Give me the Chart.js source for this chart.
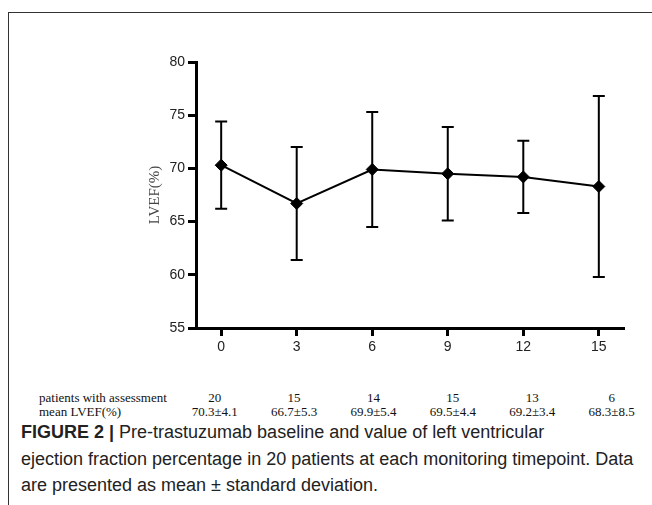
<!DOCTYPE html>
<html>
<head>
<meta charset="utf-8">
<script src="https://cdn.jsdelivr.net/npm/chart.js@4.4.0/dist/chart.umd.min.js"></script>
<style>
  body { margin: 0; background: #fff; }
  #page { position: relative; width: 652px; height: 505px; overflow: hidden; background: #fff; }
  #frame { position: absolute; left: 8px; top: 12px; right: -4px; bottom: -4px;
           border-top: 1px solid #333; border-left: 1px solid #333; }
  #chartBox { position: absolute; left: 0; top: 0; width: 652px; height: 368px; }
  #tbl { position: absolute; left: 39px; top: 391px; border-collapse: collapse;
         font-family: "Liberation Serif", "Times New Roman", serif; font-size: 13px; color: #111; }
  #tbl td { padding: 0; line-height: 13.5px; white-space: nowrap; }
  #tbl td.lab { width: 136px; text-align: left; }
  #tbl td.val { width: 79.4px; text-align: center; }
  #caption { position: absolute; left: 21px; top: 419px; width: 630px;
             font-family: "Liberation Sans", Arial, sans-serif; font-size: 18px; line-height: 26.5px; color: #222; }
</style>
</head>
<body>
<div id="page">
  <div id="frame"></div>
  <div id="chartBox"><canvas id="myChart"></canvas></div>
  <table id="tbl"><tbody id="tblBody"></tbody></table>
  <div id="caption"><b>FIGURE 2 |</b> Pre-trastuzumab baseline and value of left ventricular<br>ejection fraction percentage in 20 patients at each monitoring timepoint. Data<br>are presented as mean ± standard deviation.</div>
</div>
<script>
// monitoring timepoints (x axis ticks)
const timepoints = [0, 3, 6, 9, 12, 15]
const meanLVEF = [70.3, 66.7, 69.9, 69.5, 69.2, 68.3]
const sdLVEF = [4.1, 5.3, 5.4, 4.4, 3.4, 8.5]
const patientCount = [20, 15, 14, 15, 13, 6]
const yTicks = [55, 60, 65, 70, 75, 80]

// table under the chart
const body = document.getElementById('tblBody')
const row1 = ['<td class="lab">patients with assessment</td>']
const row2 = ['<td class="lab">mean LVEF(%)</td>']
for (let i = 0; i < timepoints.length; i++) {
  row1.push(`<td class="val">${patientCount[i]}</td>`)
  row2.push(`<td class="val">${meanLVEF[i].toFixed(1)}±${sdLVEF[i].toFixed(1)}</td>`)
}
body.innerHTML = `<tr>${row1.join('')}</tr><tr>${row2.join('')}</tr>`

// error bars drawn through the scales
const errorBars = {
  id: 'errorBars',
  beforeDatasetsDraw(chart) {
    const ctx = chart.ctx
    const xs = chart.scales.x, ys = chart.scales.y
    ctx.save()
    ctx.strokeStyle = '#000'
    ctx.lineWidth = 2
    for (let i = 0; i < timepoints.length; i++) {
      const x = xs.getPixelForValue(timepoints[i])
      const top = ys.getPixelForValue(meanLVEF[i] + sdLVEF[i])
      const bot = ys.getPixelForValue(meanLVEF[i] - sdLVEF[i])
      ctx.beginPath()
      ctx.moveTo(x, top); ctx.lineTo(x, bot)
      ctx.moveTo(x - 6, top); ctx.lineTo(x + 6, top)
      ctx.moveTo(x - 6, bot); ctx.lineTo(x + 6, bot)
      ctx.stroke()
    }
    ctx.restore()
  }
}

const ctx = document.getElementById('myChart')
new Chart(ctx, {
  type: 'line',
  data: {
    datasets: [{
      label: 'LVEF',
      data: timepoints.map((t, i) => ({ x: t, y: meanLVEF[i] })),
      borderColor: '#000',
      borderWidth: 2,
      tension: 0,
      pointStyle: 'rectRot',
      pointRadius: 6,
      pointBackgroundColor: '#000',
      pointBorderColor: '#000',
      pointBorderWidth: 1
    }]
  },
  options: {
    responsive: true,
    maintainAspectRatio: false,
    animation: false,
    layout: { padding: { left: 144, top: 62, right: 28, bottom: 0 } },
    plugins: { legend: { display: false }, tooltip: { enabled: false } },
    scales: {
      x: {
        type: 'linear',
        min: -1,
        max: 16,
        afterBuildTicks: (scale) => { scale.ticks = timepoints.map(v => ({ value: v })) },
        afterFit: (scale) => { scale.height = 40 },
        border: { display: true, color: '#000', width: 3 },
        grid: { drawOnChartArea: false, drawTicks: true, tickLength: 8, tickWidth: 3, tickColor: '#000' },
        ticks: { color: '#222', padding: 3, font: { family: 'Liberation Sans', size: 14 }, maxRotation: 0 }
      },
      y: {
        min: 55,
        max: 80,
        afterBuildTicks: (scale) => { scale.ticks = yTicks.map(v => ({ value: v })) },
        afterFit: (scale) => { scale.width = 52 },
        border: { display: true, color: '#000', width: 3 },
        grid: { drawOnChartArea: false, drawTicks: true, tickLength: 8, tickWidth: 3, tickColor: '#000' },
        ticks: { color: '#222', padding: 3, font: { family: 'Liberation Sans', size: 14 } },
        title: {
          display: true,
          text: 'LVEF(%)',
          color: '#444',
          padding: { top: 2, bottom: 0 },
          font: { family: 'Liberation Serif', size: 15 }
        }
      }
    }
  },
  plugins: [errorBars]
})
</script>
</body>
</html>
